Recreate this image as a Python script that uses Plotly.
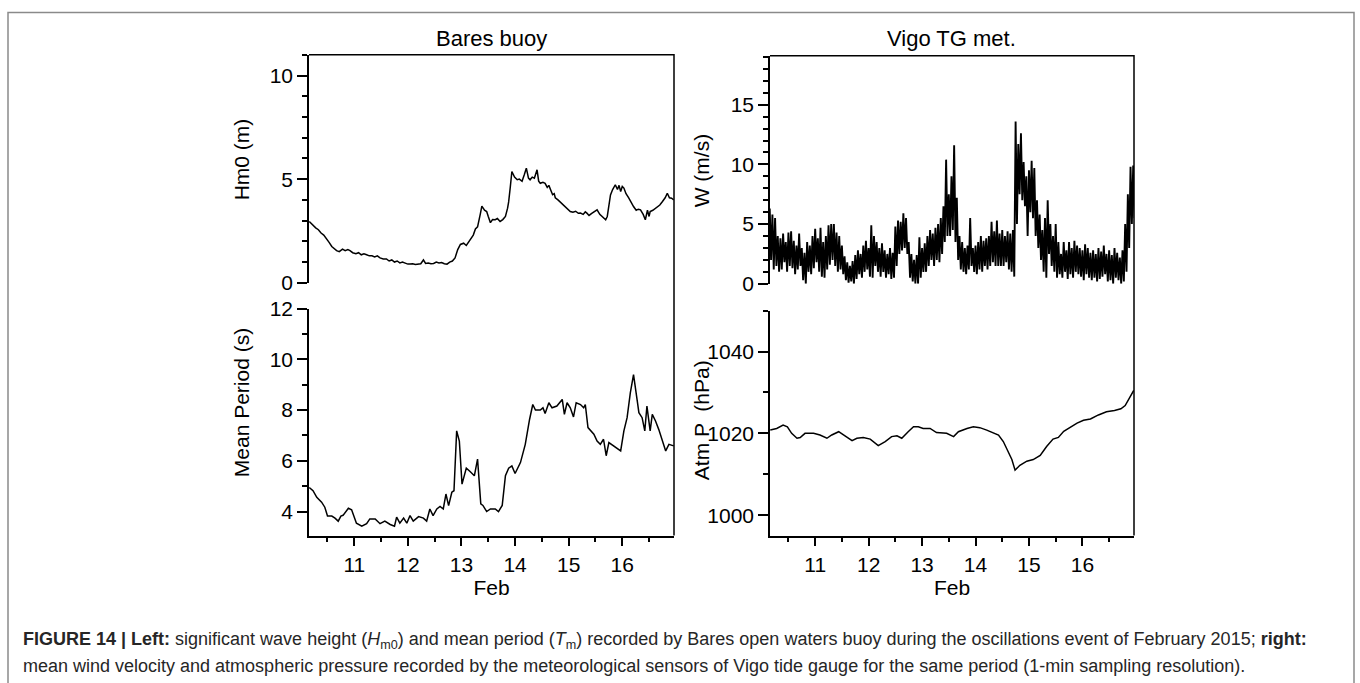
import plotly.graph_objects as go
import numpy as np

# ---------------- data ----------------
day_ticks = [11, 12, 13, 14, 15, 16]
day_labels = ["11", "12", "13", "14", "15", "16"]

hm0_t = [10.16, 10.22, 10.28, 10.33, 10.38, 10.43, 10.48, 10.53, 10.58, 10.63, 10.67, 10.72, 10.78, 10.83,
         10.88, 10.92, 10.97, 11.03, 11.08, 11.13, 11.18, 11.23, 11.28, 11.33, 11.38, 11.43, 11.48, 11.54,
         11.6, 11.65, 11.7, 11.75, 11.8, 11.85, 11.9, 11.95, 12.0, 12.04, 12.09, 12.14, 12.19, 12.24, 12.29,
         12.33, 12.38, 12.43, 12.48, 12.53, 12.58, 12.63, 12.68, 12.73, 12.78, 12.83, 12.88, 12.93, 12.98,
         13.04, 13.09, 13.13, 13.18, 13.22, 13.26, 13.3, 13.35, 13.38, 13.43, 13.47, 13.5, 13.54, 13.58,
         13.63, 13.67, 13.72, 13.77, 13.82, 13.86, 13.88, 13.91, 13.94, 13.99, 14.04, 14.08, 14.13, 14.17,
         14.21, 14.25, 14.28, 14.32, 14.36, 14.41, 14.44, 14.47, 14.52, 14.56, 14.6, 14.63, 14.66, 14.7,
         14.73, 14.75, 14.8, 14.84, 14.88, 14.93, 14.98, 15.03, 15.08, 15.13, 15.18, 15.22, 15.27, 15.31,
         15.34, 15.38, 15.43, 15.48, 15.53, 15.58, 15.63, 15.69, 15.72, 15.75, 15.78, 15.82, 15.87, 15.91,
         15.94, 15.97, 16.0, 16.03, 16.07, 16.12, 16.16, 16.21, 16.26, 16.3, 16.34, 16.39, 16.43, 16.47,
         16.5, 16.52, 16.57, 16.62, 16.66, 16.7, 16.75, 16.8, 16.84, 16.88, 16.92, 16.96]
hm0_v = [2.96, 2.8, 2.65, 2.56, 2.4, 2.3, 2.15, 1.95, 1.75, 1.65, 1.55, 1.5, 1.62, 1.55,
         1.6, 1.55, 1.45, 1.4, 1.45, 1.35, 1.4, 1.35, 1.3, 1.3, 1.25, 1.3, 1.2, 1.15,
         1.15, 1.05, 1.1, 1.0, 1.05, 0.96, 1.0, 0.95, 0.9, 0.9, 0.92, 0.88, 0.9, 0.92, 1.1,
         0.93, 0.95, 0.92, 0.93, 1.0, 0.96, 0.98, 0.92, 0.9, 1.0, 1.05, 1.2, 1.6, 1.85,
         1.91, 1.8, 1.95, 2.2, 2.3, 2.6, 2.7, 3.3, 3.7, 3.5, 3.44, 3.2, 2.9, 3.05,
         3.04, 3.1, 2.96, 3.05, 3.2, 3.6, 3.9, 4.6, 5.37, 5.1, 4.97, 5.0, 4.9, 5.2,
         5.53, 5.05, 4.97, 5.1, 5.05, 5.45, 4.9, 4.8, 4.85, 4.8, 4.6, 4.7, 4.5, 4.25,
         4.3, 4.1, 4.0, 3.9, 3.8, 3.7, 3.55, 3.44, 3.4, 3.45, 3.35, 3.36, 3.3, 3.42,
         3.36, 3.25, 3.35, 3.45, 3.52, 3.3, 3.2, 3.04, 3.2, 3.8, 4.24, 4.5, 4.73, 4.5,
         4.7, 4.4, 4.65, 4.57, 4.3, 4.1, 3.9, 3.68, 3.5, 3.55, 3.52, 3.3, 3.04, 3.5,
         3.2, 3.44, 3.5, 3.6, 3.7, 3.75, 3.92, 4.1, 4.32, 4.1, 4.08, 4.0]

tm_t = [10.16, 10.23, 10.30, 10.39, 10.45, 10.50, 10.58, 10.64, 10.70, 10.75, 10.79, 10.89, 10.95, 11.04,
        11.14, 11.23, 11.29, 11.39, 11.48, 11.57, 11.67, 11.75, 11.79, 11.85, 11.92, 11.98, 12.04, 12.10,
        12.20, 12.29, 12.35, 12.41, 12.47, 12.54, 12.60, 12.66, 12.71, 12.76, 12.82, 12.86, 12.91, 12.96,
        13.01, 13.09, 13.16, 13.24, 13.30, 13.36, 13.40, 13.47, 13.54, 13.63, 13.69, 13.76, 13.82, 13.88,
        13.94, 14.00, 14.10, 14.19, 14.27, 14.33, 14.38, 14.47, 14.52, 14.56, 14.63, 14.69, 14.78, 14.88,
        14.92, 14.97, 15.03, 15.09, 15.14, 15.22, 15.28, 15.31, 15.36, 15.41, 15.47, 15.53, 15.59, 15.65,
        15.70, 15.75, 15.84, 15.90, 15.97, 16.03, 16.09, 16.15, 16.21, 16.28, 16.31, 16.37, 16.42, 16.46,
        16.52, 16.56, 16.62, 16.68, 16.75, 16.81, 16.87, 16.96]
tm_v = [4.95, 4.82, 4.56, 4.37, 4.17, 3.82, 3.82, 3.74, 3.62, 3.82, 3.85, 4.13, 4.07, 3.54,
        3.42, 3.52, 3.71, 3.71, 3.52, 3.62, 3.49, 3.42, 3.78, 3.54, 3.74, 3.54, 3.84, 3.62,
        3.8, 3.74, 3.62, 4.1, 3.84, 4.1, 4.2, 4.1, 4.69, 4.23, 4.76, 4.82, 7.18, 6.78,
        5.08, 5.71, 5.58, 5.41, 6.07, 4.3, 4.24, 4.0, 4.1, 4.1, 4.0, 4.24, 5.41, 5.71,
        5.8, 5.5, 5.93, 6.65, 7.63, 8.22, 8.0, 8.0, 8.09, 7.87, 8.29, 8.09, 8.16, 8.42,
        7.83, 8.29, 8.09, 7.73, 8.29, 8.22, 8.09, 8.22, 7.31, 7.18, 7.05, 6.78, 6.65, 6.85,
        6.2, 6.72, 6.59, 6.52, 6.39, 7.18, 7.7, 8.68, 9.4, 8.35, 7.9, 7.7, 7.18, 8.16,
        7.18, 7.83, 7.57, 7.24, 6.78, 6.39, 6.65, 6.59]

# wind: upper / lower envelope of the 1-min record, read every 0.05 day from 10.15
w_start = 10.15
w_step = 0.05
w_hi = [6.3, 5.8, 5.5, 4.0, 3.8, 4.2, 3.5, 4.3, 4.4, 3.6, 3.2, 4.2, 3.0, 2.6, 3.5, 3.2, 4.0, 4.6, 3.8, 4.7,
        3.5, 4.0, 4.9, 5.0, 5.0, 4.3, 4.0, 3.2, 2.3, 1.8, 1.5, 1.9, 2.4, 2.8, 2.5, 3.2, 3.6, 3.0, 4.9, 4.0,
        3.5, 3.0, 3.4, 2.8, 2.5, 3.0, 2.6, 4.8, 5.3, 5.2, 5.9, 5.5, 3.5, 2.5, 2.0, 2.4, 3.9, 3.0, 3.4, 4.0,
        4.5, 4.2, 4.7, 5.0, 5.5, 6.5, 10.4, 7.5, 9.0, 11.6, 7.2, 4.0, 3.5, 3.0, 3.2, 5.5, 3.0, 3.2, 3.5, 4.0,
        3.6, 3.8, 4.0, 5.2, 4.4, 5.3, 4.2, 4.5, 4.0, 4.4, 4.2, 4.5, 13.6, 11.7, 12.6, 10.2, 9.0, 9.5, 10.3, 9.7,
        7.0, 5.8, 4.5, 5.5, 7.0, 5.0, 4.0, 5.0, 3.5, 2.5, 3.5, 2.8, 3.5, 3.0, 3.6, 3.2, 3.0, 2.8, 3.3, 3.0,
        2.6, 2.8, 2.5, 3.0, 2.7, 3.2, 2.5, 2.8, 2.4, 3.0, 2.6, 2.2, 2.8, 5.0, 7.5, 9.8, 9.9]
w_lo = [2.0, 1.2, 1.5, 1.0, 1.2, 1.8, 1.0, 1.5, 1.3, 0.8, 1.2, 1.5, 0.3, 0.0, 1.0, 0.8, 1.3, 1.8, 1.0, 0.6,
        0.5, 1.2, 1.6, 2.0, 1.5, 1.0, 1.2, 0.8, 0.3, 0.1, 0.2, 0.0, 0.4, 0.8, 0.5, 1.0, 1.2, 0.6, 0.5, 1.5,
        1.0, 0.6, 1.0, 0.5, 0.8, 0.4, 0.5, 1.5, 2.5, 2.8, 3.0, 2.5, 0.5, 0.2, 0.0, 0.0, 0.5, 1.0, 1.0, 1.5,
        2.0, 1.5, 2.0, 1.8, 2.5, 3.5, 4.0, 4.0, 4.5, 3.5, 2.0, 1.2, 1.0, 0.8, 1.2, 1.5, 1.0, 0.8, 1.2, 1.0,
        1.5, 1.2, 1.5, 1.8, 1.5, 1.5, 1.5, 1.5, 1.8, 1.2, 1.0, 0.6, 5.0, 7.5, 7.0, 6.5, 4.0, 6.0, 5.5, 4.0,
        3.0, 2.0, 1.0, 0.5, 2.5, 1.5, 1.0, 0.5, 0.8, 0.5, 1.0, 0.4, 0.8, 0.5, 1.0, 0.8, 0.6, 0.3, 0.8, 0.5,
        0.3, 0.5, 0.2, 0.4, 0.6, 0.8, 0.2, 0.3, 0.0, 0.5, 0.3, 0.0, 0.2, 1.0, 3.0, 5.0, 5.5]

p_t = [10.16, 10.28, 10.40, 10.48, 10.56, 10.66, 10.72, 10.81, 10.97, 11.09, 11.22, 11.31, 11.44, 11.53,
       11.69, 11.78, 11.90, 12.03, 12.18, 12.31, 12.43, 12.53, 12.62, 12.74, 12.84, 12.93, 13.02, 13.15,
       13.27, 13.46, 13.59, 13.68, 13.84, 13.96, 14.08, 14.21, 14.33, 14.43, 14.52, 14.61, 14.68, 14.74,
       14.83, 14.96, 15.08, 15.21, 15.33, 15.45, 15.55, 15.65, 15.78, 15.90, 16.02, 16.15, 16.30, 16.45,
       16.60, 16.72, 16.80, 16.88, 16.96]
p_v = [1020.8, 1021.2, 1022.0, 1021.6, 1020.0, 1018.8, 1019.0, 1020.0, 1020.0, 1019.6, 1018.8, 1019.6,
       1020.4, 1019.6, 1018.2, 1018.8, 1019.0, 1018.6, 1017.0, 1018.0, 1019.2, 1019.4, 1018.8, 1020.4,
       1021.6, 1021.6, 1021.2, 1021.2, 1020.2, 1020.0, 1019.2, 1020.4, 1021.2, 1021.6, 1021.4, 1020.8,
       1020.2, 1019.6, 1018.0, 1015.6, 1013.6, 1011.0, 1012.2, 1013.2, 1013.6, 1014.6, 1016.8, 1018.6,
       1019.0, 1020.5, 1021.5, 1022.5, 1023.2, 1023.5, 1024.5, 1025.3, 1025.6, 1026.0, 1026.8, 1028.5,
       1030.5]

# ---------------- figure ----------------
W, H = 1360, 683
# empirical vertical frame of the rendered plot area (pixels)
Y0, HH = 10.0, 663.0
def px(x):
    return x / W
def py(y):
    return 1 - (y - Y0) / HH

# interleave wind envelope as a dense trace
w_x, w_y = [], []
for i, (hi, lo) in enumerate(zip(w_hi, w_lo)):
    t = w_start + i * w_step
    w_x += [t, t + w_step / 2]
    w_y += [hi, lo]

line = dict(color="black", width=1.5)
fig = go.Figure()
fig.add_trace(go.Scatter(x=hm0_t, y=hm0_v, mode="lines", line=line, xaxis="x", yaxis="y"))
fig.add_trace(go.Scatter(x=tm_t, y=tm_v, mode="lines", line=line, xaxis="x2", yaxis="y2"))
fig.add_trace(go.Scatter(x=w_x, y=w_y, mode="lines", line=dict(color="black", width=1.9), xaxis="x3", yaxis="y3"))
fig.add_trace(go.Scatter(x=p_t, y=p_v, mode="lines", line=line, xaxis="x4", yaxis="y4"))

FONT = "Liberation Sans, Arial, Helvetica, sans-serif"
tickfont = dict(family=FONT, size=21, color="black")
xr = [10.155, 16.965]

LX = [px(309), px(674)]
RX = [px(770), px(1134)]

def yax(domain, rng, dtick, minor, anchor):
    return dict(domain=domain, range=rng, anchor=anchor, showline=True, linecolor="black", linewidth=1.5,
                ticks="outside", ticklen=10, tickwidth=1.5, tickcolor="black", dtick=dtick, tick0=0,
                minor=dict(dtick=minor, tick0=0, ticks="outside", ticklen=5, tickwidth=1.5, tickcolor="black"),
                showgrid=False, zeroline=False, tickfont=tickfont, fixedrange=True)

def xbottom(domain, anchor):
    return dict(domain=domain, range=xr, anchor=anchor, showline=True, linecolor="black", linewidth=1.5,
                ticks="outside", ticklen=9, tickwidth=1.5, tickcolor="black",
                tickvals=day_ticks, ticktext=day_labels,
                minor=dict(dtick=0.5, tick0=0, ticks="outside", ticklen=5, tickwidth=1.5, tickcolor="black"),
                showgrid=False, zeroline=False, tickfont=tickfont,
                title=dict(text="Feb", font=dict(family=FONT, size=21, color="black"), standoff=6))

def xtop(domain, anchor):
    return dict(domain=domain, range=xr, anchor=anchor, visible=False)

fig.update_layout(
    width=W, height=H, margin=dict(l=0, r=0, t=0, b=0),
    paper_bgcolor="white", plot_bgcolor="white", showlegend=False,
    xaxis=xtop(LX, "y"),
    yaxis=yax([py(282), py(53)], [0, 11], 5, 1, "x"),
    xaxis2=xbottom(LX, "y2"),
    yaxis2=yax([py(536), py(308)], [3.05, 12], 2, 1, "x2"),
    xaxis3=xtop(RX, "y3"),
    yaxis3=yax([py(283), py(54)], [0, 19.1], 5, 1, "x3"),
    xaxis4=xbottom(RX, "y4"),
    yaxis4=yax([py(536), py(310)], [995, 1050], 20, 10, "x4"),
)

# frame lines (top and right) of each column, and outer border
shapes = [
    dict(type="path", xref="paper", yref="paper",
         path=f"M {px(309)} {py(53)} L {px(674)} {py(53)} L {px(674)} {py(536)}",
         line=dict(color="black", width=1.5)),
    dict(type="path", xref="paper", yref="paper",
         path=f"M {px(770)} {py(54)} L {px(1134)} {py(54)} L {px(1134)} {py(536)}",
         line=dict(color="black", width=1.5)),
    dict(type="rect", xref="paper", yref="paper", x0=px(8), x1=px(1354), y0=-0.2, y1=py(10.5),
         line=dict(color="#8a8a8a", width=1.5)),
]
fig.update_layout(shapes=shapes)

ann = []
def text(x, y, s, size=21, angle=0, xanchor="center", color="black"):
    ann.append(dict(x=px(x), y=py(y), xref="paper", yref="paper", text=s, showarrow=False,
                    textangle=angle, xanchor=xanchor, yanchor="middle",
                    font=dict(family=FONT, size=size, color=color)))

text(491.5, 37, "Bares buoy", 22)
text(952, 37, "Vigo TG met.", 22)
text(241, 158, "Hm0 (m)", 21, -90)
text(241, 403, "Mean Period (s)", 21, -90)
text(701, 169, "W (m/s)", 21, -90)
text(701, 420, "Atm P  (hPa)", 21, -90)

cap1 = ("<b>FIGURE 14 | Left:</b> significant wave height (<i>H</i><sub>m0</sub>) and mean period "
        "(<i>T</i><sub>m</sub>) recorded by Bares open waters buoy during the oscillations event of "
        "February 2015; <b>right:</b>")
cap2 = ("mean wind velocity and atmospheric pressure recorded by the meteorological sensors of Vigo "
        "tide gauge for the same period (1-min sampling resolution).")
text(21, 641, cap1, 18, 0, "left", "#262626")
text(21, 667, cap2, 18, 0, "left", "#262626")
fig.update_layout(annotations=ann)

fig.write_html("out.html")
